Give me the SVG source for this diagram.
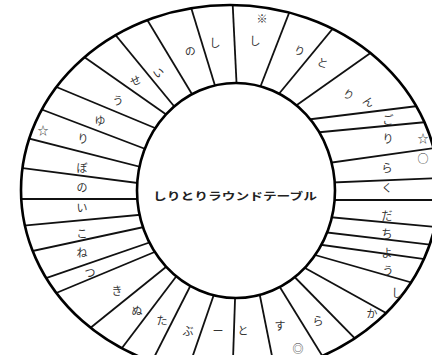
<svg xmlns="http://www.w3.org/2000/svg" width="432" height="355" viewBox="0 0 432 355">
<style>
.sp{stroke:#111;stroke-width:1.8;fill:none}
.el{stroke:#000;stroke-width:2.6;fill:none}
.t{font-family:"Noto Sans CJK JP","Noto Sans",sans-serif;font-size:11px;fill:#333;text-anchor:middle;dominant-baseline:central}
.c{font-family:"Noto Sans CJK JP","Noto Sans",sans-serif;font-size:10.5px;font-weight:bold;fill:#222;dominant-baseline:central}
</style>
<defs>
<clipPath id="ring">
<path clip-rule="evenodd" d="M21,190 a209,185 0 1,0 418,0 a209,185 0 1,0 -418,0 Z M137,190.5 a99,107.5 0 1,0 198,0 a99,107.5 0 1,0 -198,0 Z"/>
</clipPath>
</defs>
<rect width="432" height="355" fill="#fff"/>
<g id="connectors" clip-path="url(#ring)">
<line class="sp" x1="238" y1="113" x2="231" y2="-30"/>
<line class="sp" x1="249" y1="116" x2="305" y2="-28"/>
<line class="sp" x1="259" y1="118" x2="363" y2="-8"/>
<line class="sp" x1="270" y1="124" x2="420" y2="18"/>
<line class="sp" x1="272" y1="124" x2="450" y2="102"/>
<line class="sp" x1="280" y1="136" x2="490" y2="116"/>
<line class="sp" x1="293" y1="168" x2="491" y2="140"/>
<line class="sp" x1="296" y1="184" x2="490" y2="176"/>
<line class="sp" x1="296" y1="200" x2="490" y2="200"/>
<line class="sp" x1="296" y1="214" x2="490" y2="232"/>
<line class="sp" x1="289" y1="228" x2="493" y2="252"/>
<line class="sp" x1="279" y1="239" x2="497" y2="269"/>
<line class="sp" x1="273" y1="243" x2="483" y2="303"/>
<line class="sp" x1="269" y1="248" x2="449" y2="348"/>
<line class="sp" x1="274" y1="256" x2="380" y2="364"/>
<line class="sp" x1="265" y1="263" x2="339" y2="383"/>
<line class="sp" x1="255" y1="271" x2="279" y2="391"/>
<line class="sp" x1="236" y1="270" x2="232" y2="390"/>
<line class="sp" x1="221" y1="274" x2="181" y2="390"/>
<line class="sp" x1="203" y1="261" x2="137" y2="391"/>
<line class="sp" x1="194" y1="253" x2="100" y2="377"/>
<line class="sp" x1="192" y1="246" x2="58" y2="354"/>
<line class="sp" x1="181" y1="241" x2="37" y2="301"/>
<line class="sp" x1="177" y1="233" x2="3" y2="293"/>
<line class="sp" x1="181" y1="219" x2="-23" y2="263"/>
<line class="sp" x1="181" y1="211" x2="-35" y2="231"/>
<line class="sp" x1="180" y1="199" x2="-30" y2="199"/>
<line class="sp" x1="184" y1="189" x2="-48" y2="159"/>
<line class="sp" x1="184" y1="178" x2="-36" y2="122"/>
<line class="sp" x1="190" y1="166" x2="-20" y2="86"/>
<line class="sp" x1="179" y1="138" x2="30" y2="76"/>
<line class="sp" x1="194" y1="134" x2="40" y2="26"/>
<line class="sp" x1="201" y1="139" x2="81" y2="-7"/>
<line class="sp" x1="210" y1="124" x2="122" y2="-22"/>
<line class="sp" x1="224" y1="115" x2="178" y2="-35"/>
</g>
<g id="outer-ring">
<ellipse class="el" cx="230" cy="190" rx="209" ry="185"/>
</g>
<g id="center-table">
<ellipse class="el" cx="236" cy="190.5" rx="99" ry="107.5" fill="#fff"/>
<text class="c" x="153" y="195" textLength="164" lengthAdjust="spacingAndGlyphs">しりとりラウンドテーブル</text>
</g>
<g id="labels">
<text class="t" x="262" y="18">※</text>
<text class="t" x="255" y="40">し</text>
<text class="t" x="300" y="50" transform="rotate(20 300 50)">り</text>
<text class="t" x="323" y="62" transform="rotate(20 323 62)">と</text>
<text class="t" x="349" y="94" transform="rotate(30 349 94)">り</text>
<text class="t" x="369" y="101" transform="rotate(30 369 101)">ん</text>
<text class="t" x="388" y="119">ご</text>
<text class="t" x="388" y="138">り</text>
<text class="t" x="423" y="138">☆</text>
<text class="t" x="423" y="158">○</text>
<text class="t" x="387" y="167">ら</text>
<text class="t" x="387" y="187">く</text>
<text class="t" x="387" y="215">だ</text>
<text class="t" x="387" y="233">ち</text>
<text class="t" x="387" y="252">よ</text>
<text class="t" x="388" y="270">う</text>
<text class="t" x="397" y="292">し</text>
<text class="t" x="372" y="313">か</text>
<text class="t" x="318" y="320">ら</text>
<text class="t" x="298" y="348">◎</text>
<text class="t" x="280" y="325">す</text>
<text class="t" x="243" y="330">と</text>
<text class="t" x="218" y="330">ー</text>
<text class="t" x="188" y="330">ぶ</text>
<text class="t" x="162" y="320">た</text>
<text class="t" x="137" y="310">ぬ</text>
<text class="t" x="117" y="290">き</text>
<text class="t" x="90" y="272">つ</text>
<text class="t" x="82" y="252">ね</text>
<text class="t" x="82" y="233">こ</text>
<text class="t" x="82" y="207">い</text>
<text class="t" x="82" y="187">の</text>
<text class="t" x="82" y="167">ぼ</text>
<text class="t" x="83" y="138">り</text>
<text class="t" x="43" y="130">☆</text>
<text class="t" x="100" y="120">ゆ</text>
<text class="t" x="118" y="100">う</text>
<text class="t" x="135" y="80" transform="rotate(-25 135 80)">せ</text>
<text class="t" x="158" y="72" transform="rotate(-30 158 72)">い</text>
<text class="t" x="190" y="50" transform="rotate(-10 190 50)">の</text>
<text class="t" x="215" y="42">し</text>
</g>
</svg>
